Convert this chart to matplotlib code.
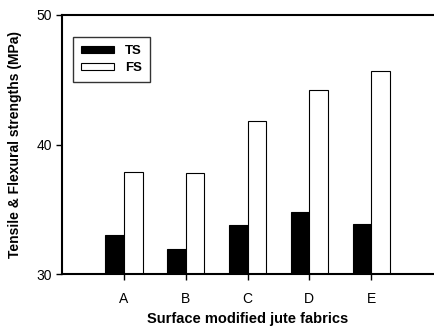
import matplotlib
matplotlib.use("Agg")
import matplotlib.pyplot as plt
import numpy as np

categories = ['A', 'B', 'C', 'D', 'E']
ts = [33.0, 31.9, 33.8, 34.8, 33.9]
fs = [37.9, 37.8, 41.8, 44.2, 45.7]

plt.rcParams['font.family'] = ['Liberation Sans', 'DejaVu Sans']

fig = plt.figure(figsize=(4.35, 3.33), dpi=100)
ax = fig.add_axes([0.143, 0.177, 0.852, 0.778])

x = np.arange(1, len(categories) + 1)
w = 0.3
ax.bar(x - w / 2, ts, w, color='black', edgecolor='black', linewidth=0.8, label='TS')
ax.bar(x + w / 2, fs, w, color='white', edgecolor='black', linewidth=0.8, label='FS')

ax.set_xlim(0, 6)
ax.set_ylim(30, 50)
ax.set_yticks([30, 40, 50])
ax.set_xticks(x)
ax.set_xticklabels(categories)
ax.tick_params(axis='both', direction='out', labelsize=10, length=4, width=1)
ax.tick_params(axis='x', pad=9)

for s in ['left', 'bottom', 'top']:
    ax.spines[s].set_linewidth(1.5)
ax.spines['right'].set_visible(False)

ax.set_ylabel('Tensile & Flexural strengths (MPa)', fontsize=10, fontweight='bold', labelpad=10)
ax.set_xlabel('Surface modified jute fabrics', fontsize=10.5, fontweight='bold', labelpad=4)

leg = ax.legend(loc='upper left', bbox_to_anchor=(0.03, 0.915), borderaxespad=0, frameon=True,
                fancybox=False, edgecolor='black', handlelength=2.5, handleheight=0.4,
                handletextpad=0.8, prop={'weight': 'bold', 'size': 9.5},
                borderpad=0.6, labelspacing=0.4)
leg.get_frame().set_linewidth(1.0)

fig.savefig('out.png', dpi=100)
